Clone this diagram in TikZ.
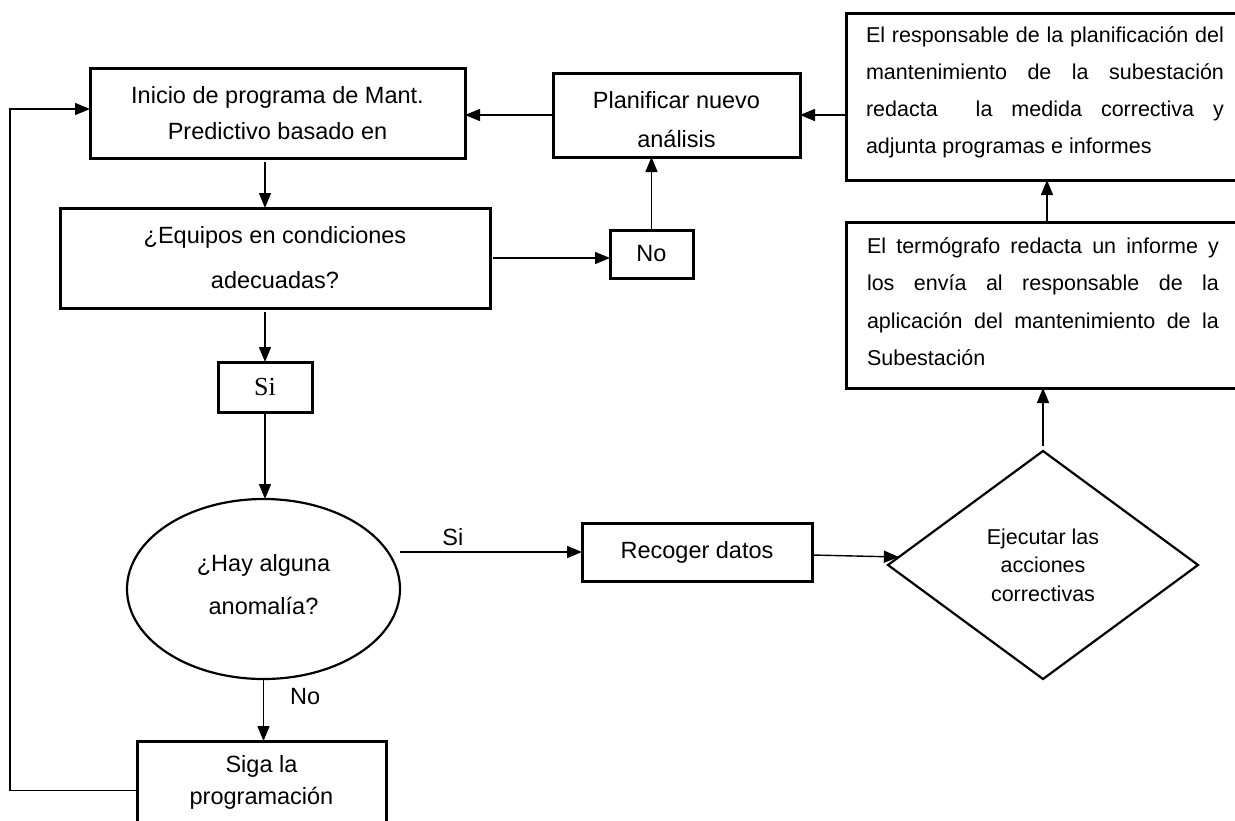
\documentclass[tikz,border=0pt]{standalone}
\usepackage{fontspec}
\setmainfont{Liberation Sans}
\newfontfamily\serifSi{Liberation Serif}
\usetikzlibrary{shapes.geometric,arrows.meta,calc}
\begin{document}
\begin{tikzpicture}[x=1pt,y=-1pt,
  box/.style={draw, line width=3pt, inner sep=0pt, outer sep=0pt, align=center},
  shp/.style={draw, line width=2.2pt, inner sep=0pt, outer sep=0pt, align=center},
  txt/.style={align=center, inner sep=0pt},
  conn/.style={line width=1.4pt, -{Triangle[length=15pt,width=12pt]}},
  lbl/.style={inner sep=0pt, font=\fontsize{23.5}{28}\selectfont}]
\useasboundingbox (0,0) rectangle (1235,820);

% boxes
\node[box, minimum width=375pt, minimum height=90pt, font=\fontsize{23.5}{36}\selectfont]
  (inicio) at (277.5,113) {Inicio de programa de Mant.\\Predictivo basado en};

\node[box, minimum width=247pt, minimum height=84pt] (plan) at (676.5,115) {};
\node[txt, font=\fontsize{23.5}{39}\selectfont] (planT) at (676.5,120) {Planificar nuevo\\análisis};

\node[box, minimum width=400pt, minimum height=167pt] (tr) at (1046,96.5) {};
\node[txt, text width=358pt, align=justify, font=\fontsize{21.5}{37}\selectfont] (trT) at (1045,92)
  {El responsable de la planificación del\linebreak mantenimiento de la subestación\linebreak redacta\ \ la medida correctiva y\linebreak adjunta programas e informes};

\node[box, minimum width=400pt, minimum height=166pt] (termo) at (1046,305) {};
\node[txt, text width=352pt, align=justify, font=\fontsize{21.5}{37.5}\selectfont] (termoT) at (1043,301.5)
  {El termógrafo redacta un informe y\linebreak los envía al responsable de la\linebreak aplicación del mantenimiento de la\linebreak Subestación};

\node[box, minimum width=430pt, minimum height=100pt, font=\fontsize{23.5}{45}\selectfont]
  (equipos) at (275,258) {¿Equipos en condiciones\\adecuadas?};

\node[box, minimum width=83pt, minimum height=48pt, font=\fontsize{23.5}{28}\selectfont]
  (no) at (651.5,254) {No};

\node[box, minimum width=94pt, minimum height=50pt, font=\serifSi\fontsize{26}{30}\selectfont]
  (si) at (265,387) {Si};

\node[shp, ellipse, minimum width=273pt, minimum height=180pt] (ell) at (263.5,589) {};
\node[txt, font=\fontsize{23.5}{43}\selectfont] (ellT) at (263.5,584.5) {¿Hay alguna\\anomalía?};

\node[box, minimum width=230pt, minimum height=58pt, font=\fontsize{23.5}{28}\selectfont]
  (rec) at (697,552) {Recoger datos};

\node[shp, diamond, aspect=1.36, minimum width=310pt, minimum height=228pt,
  font=\fontsize{21.5}{28.5}\selectfont] (dia) at (1043,565) {Ejecutar las\\acciones\\correctivas};

\node[box, minimum width=249pt, minimum height=99pt] (siga) at (261.5,790.5) {};
\node[txt, font=\fontsize{23.5}{32}\selectfont] (sigaT) at (261.5,782.5) {Siga la\\programación};

\coordinate (lp) at (10,109);
\coordinate (inicioIn) at ([yshift=4pt]inicio.west);

% connectors
\draw[conn] (tr.west |- plan.east) -- (plan.east);
\draw[conn] (plan.west) -- (plan.west -| inicio.east);
\draw[conn, shorten <=4pt] (inicio.south -| si) -- (equipos.north -| si);
\draw[conn, shorten <=3pt] (equipos.east) -- (equipos.east -| no.west);
\draw[conn] (no.north) -- (no.north |- plan.south);
\draw[conn, shorten <=4pt] (equipos.south -| si) -- (si.north);
\draw[conn] (si.south) -- (si.south |- ell.north);
\draw[conn] (ell.east |- rec.west) -- (rec.west)
  node[lbl, pos=0.29, above=5.5pt] {Si};
\draw[conn] ([yshift=-3pt]rec.east) -- ($(dia.west)!0.07!(dia.north)$);
\draw[conn, shorten <=5pt] (dia.north) -- (dia.north |- termo.south);
\draw[conn] ([xshift=4pt]dia.north |- termo.north) -- ([xshift=4pt]dia.north |- tr.south);
\draw[conn] (ell.south) -- (ell.south |- siga.north)
  node[lbl, pos=0.29, right=26pt] {No};
\draw[conn] (siga.west) -- (siga.west -| lp) -- (lp) -- (inicioIn);
\end{tikzpicture}
\end{document}
